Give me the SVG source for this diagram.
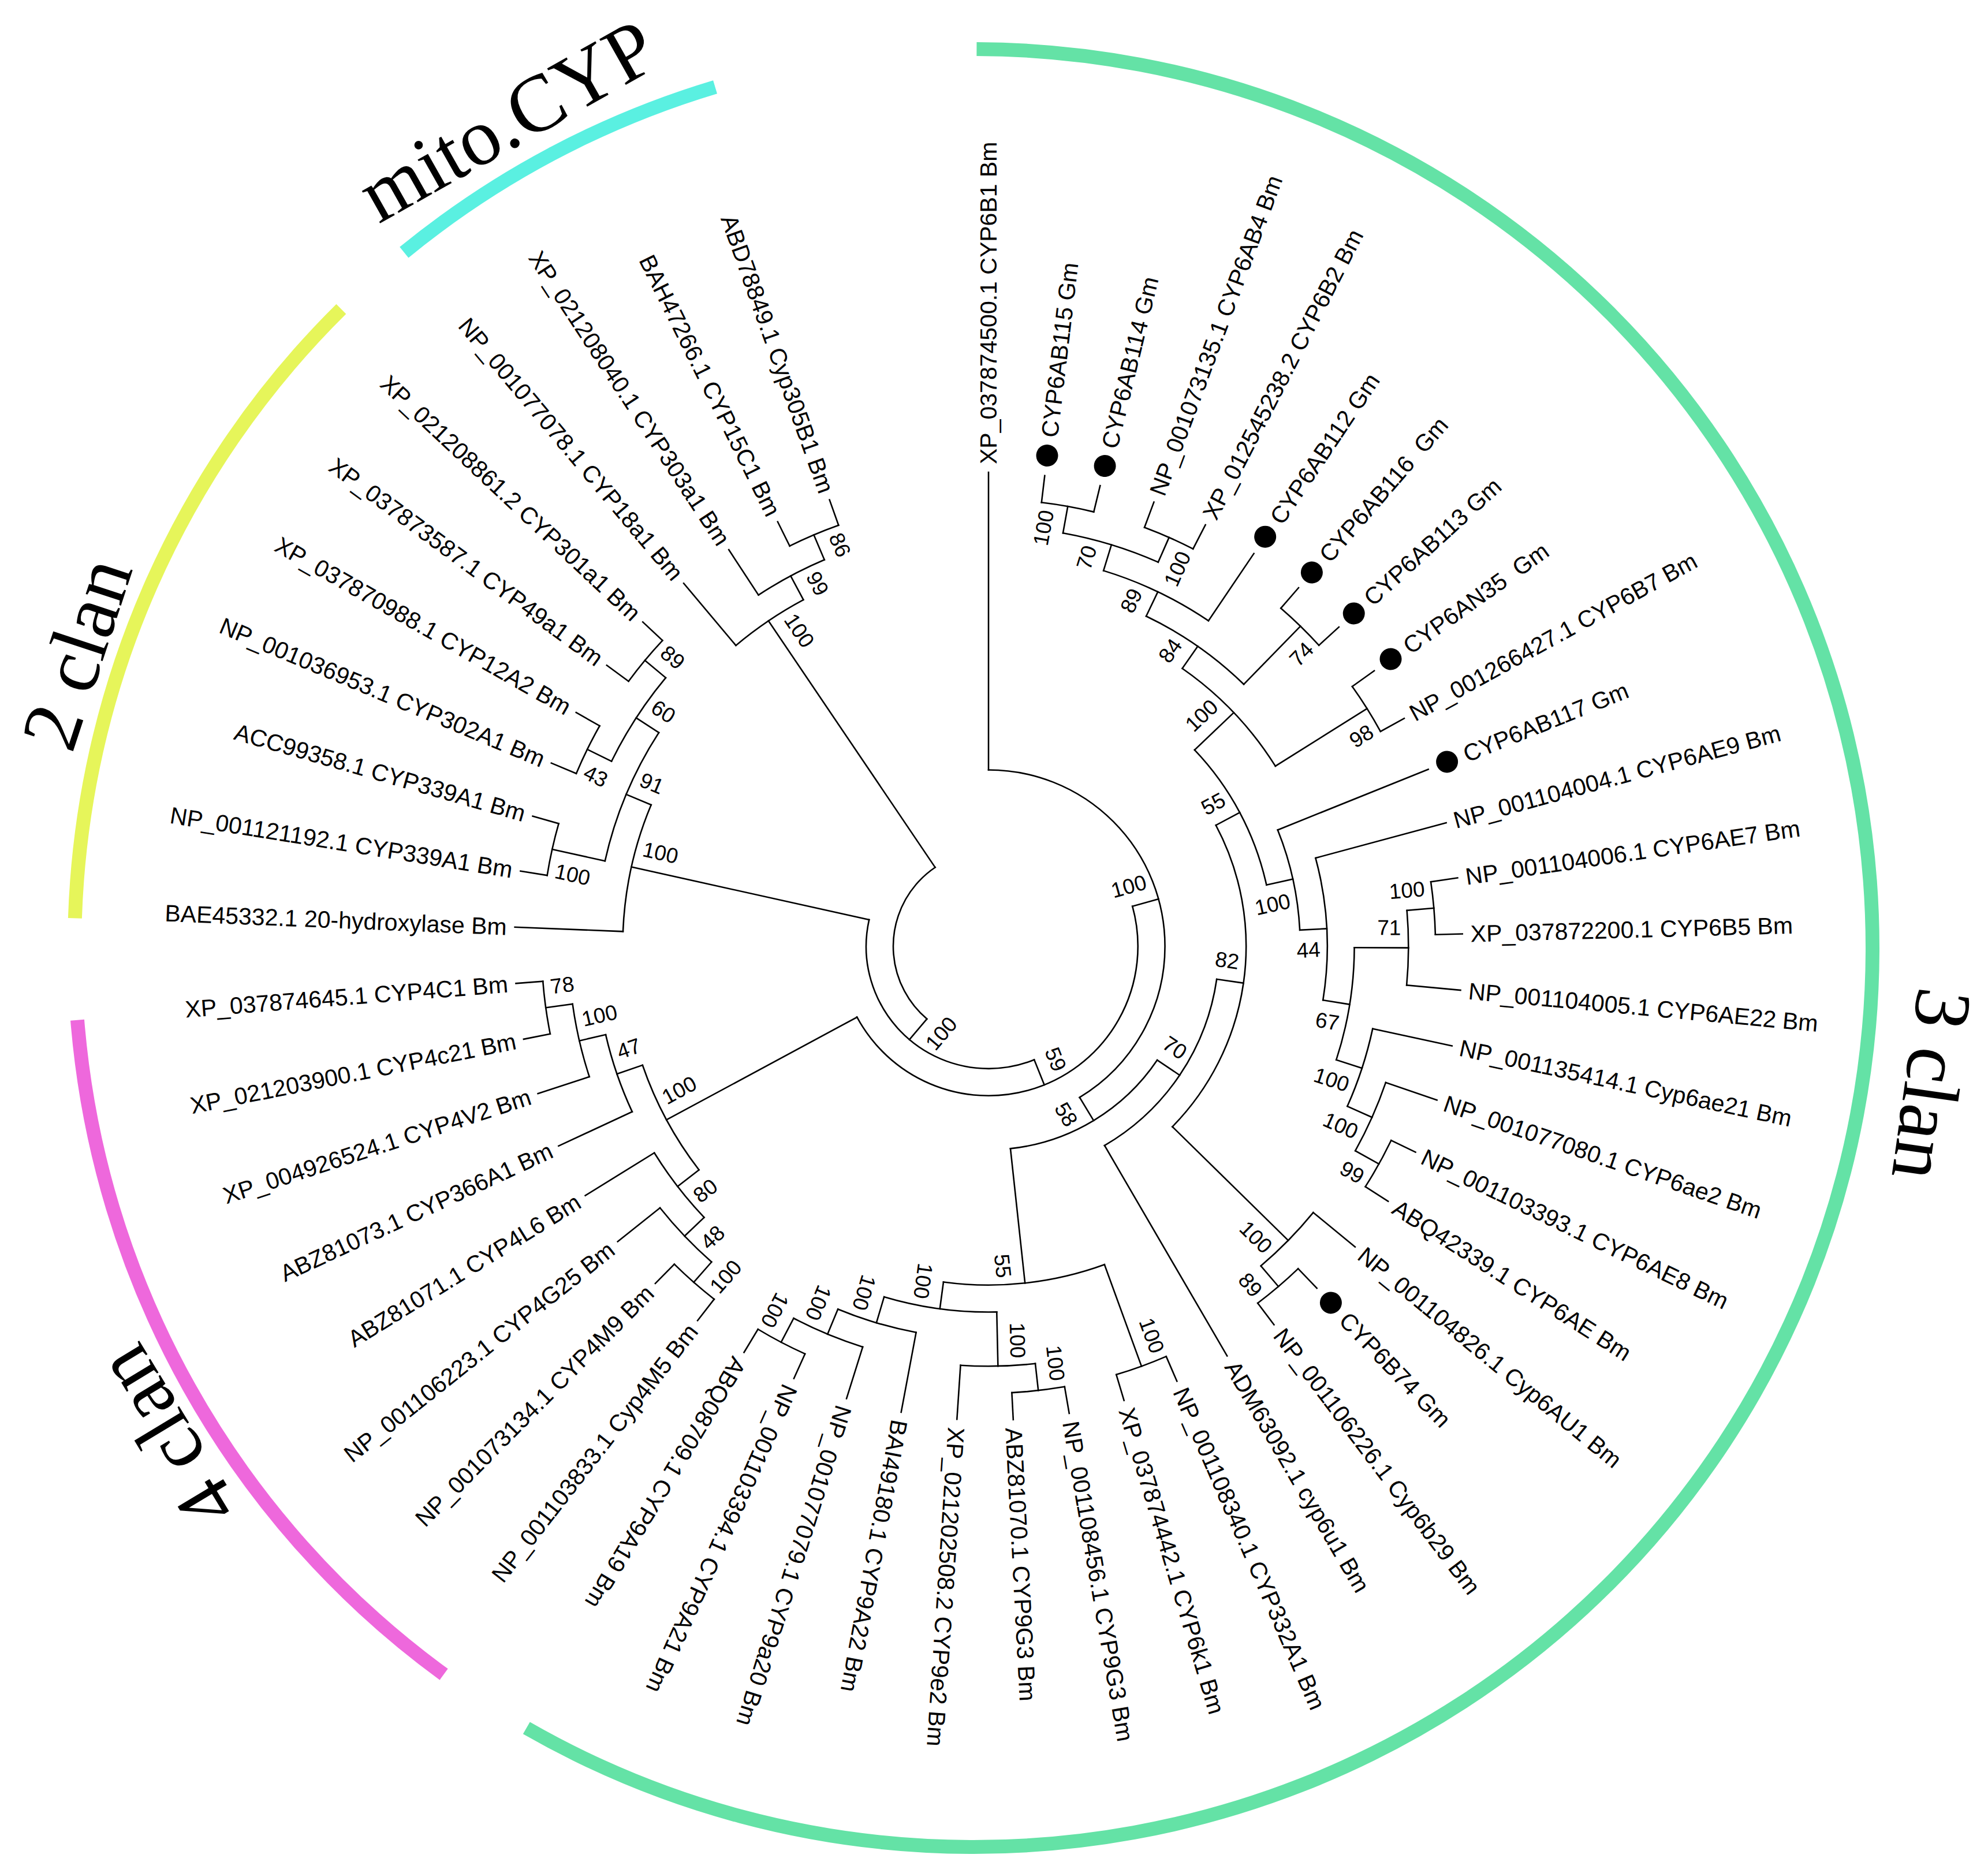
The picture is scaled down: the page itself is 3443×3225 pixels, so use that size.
<svg xmlns="http://www.w3.org/2000/svg" width="3443" height="3225" viewBox="0 0 3443 3225">
<style>
.c line,.c path{stroke:#000;stroke-width:2.6;stroke-linecap:square;fill:none}
.c circle{stroke:#000;stroke-width:2.6;fill:none;stroke-linecap:square}
.lf{font-family:"Liberation Sans",Arial,sans-serif;font-size:41px;fill:#000}
.bs{font-family:"Liberation Sans",Arial,sans-serif;font-size:37px;fill:#000}
.cl{font-family:"Liberation Serif","Times New Roman",serif;font-size:140px;fill:#000}
.ring circle{fill:none;stroke-width:24}
.dot{fill:#000}
</style>
<rect width="3443" height="3225" fill="#fff"/>
<g id="ring" class="ring" transform="translate(1686 1642)">
<circle r="1557" stroke="#5AF0E1" stroke-dasharray="614.15 99999" transform="rotate(230.7)"/>
<circle r="1557" stroke="#E6F55A" stroke-dasharray="1179.4 99999" transform="rotate(181.9)"/>
<circle r="1557" stroke="#EE68DC" stroke-dasharray="1339.7 99999" transform="rotate(126.1)"/>
<circle r="1557" stroke="#64E2A6" stroke-dasharray="5695.8 99999" transform="rotate(270.2)"/>
</g>
<g id="clan-labels" class="cl" text-anchor="middle">
<text id="lbl-mito" transform="translate(1686 1642) rotate(330.6) translate(0 -1598)">mito.CYP</text>
<text id="lbl-2clan" transform="translate(1686 1642) rotate(288.2) translate(0 -1588)">2 clan</text>
<text id="lbl-4clan" transform="translate(1686 1642) rotate(238.8) translate(0 -1588)">4 clan</text>
<text id="lbl-3clan" transform="translate(1686 1642) rotate(98.1) translate(0 -1630)" style="font-size:138px">3 clan</text>
</g>
<g id="connectors" class="c" transform="translate(1712 1639)">
<circle r="774.14" stroke-dasharray="92.01 99999" transform="rotate(276.81)"/>
<circle r="774.14" stroke-dasharray="92.01 99999" transform="rotate(290.42)"/>
<circle r="727.29" stroke-dasharray="172.76 99999" transform="rotate(280.215)"/>
<circle r="680.43" stroke-dasharray="202.12 99999" transform="rotate(287.02)"/>
<circle r="774.14" stroke-dasharray="92.01 99999" transform="rotate(310.85)"/>
<circle r="633.57" stroke-dasharray="207.06 99999" transform="rotate(295.53)"/>
<circle r="774.14" stroke-dasharray="92.01 99999" transform="rotate(324.46)"/>
<circle r="586.71" stroke-dasharray="235.26 99999" transform="rotate(304.89)"/>
<circle r="774.14" stroke-dasharray="91.88 99999" transform="rotate(351.70)"/>
<circle r="727.29" stroke-dasharray="129.60 99999" transform="rotate(355.10)"/>
<circle r="774.14" stroke-dasharray="91.88 99999" transform="rotate(385.74)"/>
<circle r="727.29" stroke-dasharray="129.60 99999" transform="rotate(378.93)"/>
<circle r="680.43" stroke-dasharray="141.50 99999" transform="rotate(372.12)"/>
<circle r="633.57" stroke-dasharray="197.66 99999" transform="rotate(360.205)"/>
<circle r="586.71" stroke-dasharray="248.32 99999" transform="rotate(344.89)"/>
<circle r="539.86" stroke-dasharray="178.41 99999" transform="rotate(338.08)"/>
<circle r="493" stroke-dasharray="268.20 99999" transform="rotate(316.38)"/>
<circle r="774.14" stroke-dasharray="92.01 99999" transform="rotate(406.16)"/>
<circle r="727.29" stroke-dasharray="129.66 99999" transform="rotate(399.35)"/>
<circle r="446.14" stroke-dasharray="564.49 99999" transform="rotate(331.965)"/>
<circle r="399.29" stroke-dasharray="359.39 99999" transform="rotate(368.21)"/>
<circle r="774.14" stroke-dasharray="92.01 99999" transform="rotate(426.58)"/>
<circle r="774.14" stroke-dasharray="92.01 99999" transform="rotate(440.20)"/>
<circle r="727.29" stroke-dasharray="129.66 99999" transform="rotate(443.605)"/>
<circle r="774.14" stroke-dasharray="92.01 99999" transform="rotate(474.24)"/>
<circle r="727.29" stroke-dasharray="129.66 99999" transform="rotate(467.43)"/>
<circle r="680.43" stroke-dasharray="141.56 99999" transform="rotate(460.62)"/>
<circle r="633.57" stroke-dasharray="197.60 99999" transform="rotate(448.71)"/>
<circle r="586.71" stroke-dasharray="283.24 99999" transform="rotate(429.985)"/>
<circle r="352.43" stroke-dasharray="306.45 99999" transform="rotate(393.995)"/>
<circle r="305.57" stroke-dasharray="794.14 99999" transform="rotate(270)"/>
<circle r="774.14" stroke-dasharray="91.88 99999" transform="rotate(487.86)"/>
<circle r="727.29" stroke-dasharray="129.60 99999" transform="rotate(491.26)"/>
<circle r="680.43" stroke-dasharray="141.50 99999" transform="rotate(496.365)"/>
<circle r="774.14" stroke-dasharray="92.01 99999" transform="rotate(528.70)"/>
<circle r="727.29" stroke-dasharray="129.54 99999" transform="rotate(521.90)"/>
<circle r="680.43" stroke-dasharray="141.44 99999" transform="rotate(515.09)"/>
<circle r="633.57" stroke-dasharray="207.06 99999" transform="rotate(502.32)"/>
<circle r="258.71" stroke-dasharray="755.10 99999" transform="rotate(344.45)"/>
<circle r="774.14" stroke-dasharray="92.01 99999" transform="rotate(576.36)"/>
<circle r="774.14" stroke-dasharray="92.01 99999" transform="rotate(562.74)"/>
<circle r="727.29" stroke-dasharray="172.89 99999" transform="rotate(566.145)"/>
<circle r="774.14" stroke-dasharray="92.01 99999" transform="rotate(549.13)"/>
<circle r="680.43" stroke-dasharray="242.50 99999" transform="rotate(552.535)"/>
<circle r="633.57" stroke-dasharray="225.86 99999" transform="rotate(542.32)"/>
<circle r="211.86" stroke-dasharray="460.23 99999" transform="rotate(428.065)"/>
<circle r="774.14" stroke-dasharray="92.01 99999" transform="rotate(603.59)"/>
<circle r="727.29" stroke-dasharray="129.66 99999" transform="rotate(596.78)"/>
<circle r="680.43" stroke-dasharray="141.44 99999" transform="rotate(589.98)"/>
<circle r="165" stroke-dasharray="304.21 99999" transform="rotate(490.30)"/>
<line x1="305.57" x2="821" transform="rotate(270)"/>
<line x1="774.14" x2="821" transform="rotate(276.81)"/>
<line x1="774.14" x2="821" transform="rotate(283.62)"/>
<line x1="774.14" x2="821" transform="rotate(290.42)"/>
<line x1="774.14" x2="821" transform="rotate(297.23)"/>
<line x1="680.43" x2="821" transform="rotate(304.04)"/>
<line x1="774.14" x2="821" transform="rotate(310.85)"/>
<line x1="774.14" x2="821" transform="rotate(317.66)"/>
<line x1="774.14" x2="821" transform="rotate(324.46)"/>
<line x1="774.14" x2="821" transform="rotate(331.27)"/>
<line x1="539.86" x2="821" transform="rotate(338.08)"/>
<line x1="586.71" x2="821" transform="rotate(344.89)"/>
<line x1="774.14" x2="821" transform="rotate(351.70)"/>
<line x1="774.14" x2="821" transform="rotate(358.50)"/>
<line x1="727.29" x2="821" transform="rotate(365.31)"/>
<line x1="680.43" x2="821" transform="rotate(372.12)"/>
<line x1="727.29" x2="821" transform="rotate(378.93)"/>
<line x1="774.14" x2="821" transform="rotate(385.74)"/>
<line x1="774.14" x2="821" transform="rotate(392.54)"/>
<line x1="727.29" x2="821" transform="rotate(399.35)"/>
<line x1="774.14" x2="821" transform="rotate(406.16)"/>
<line x1="774.14" x2="821" transform="rotate(412.97)"/>
<line x1="399.29" x2="821" transform="rotate(419.78)"/>
<line x1="774.14" x2="821" transform="rotate(426.58)"/>
<line x1="774.14" x2="821" transform="rotate(433.39)"/>
<line x1="774.14" x2="821" transform="rotate(440.20)"/>
<line x1="774.14" x2="821" transform="rotate(447.01)"/>
<line x1="727.29" x2="821" transform="rotate(453.82)"/>
<line x1="680.43" x2="821" transform="rotate(460.62)"/>
<line x1="727.29" x2="821" transform="rotate(467.43)"/>
<line x1="774.14" x2="821" transform="rotate(474.24)"/>
<line x1="774.14" x2="821" transform="rotate(481.05)"/>
<line x1="774.14" x2="821" transform="rotate(487.86)"/>
<line x1="774.14" x2="821" transform="rotate(494.66)"/>
<line x1="727.29" x2="821" transform="rotate(501.47)"/>
<line x1="680.43" x2="821" transform="rotate(508.28)"/>
<line x1="680.43" x2="821" transform="rotate(515.09)"/>
<line x1="727.29" x2="821" transform="rotate(521.90)"/>
<line x1="774.14" x2="821" transform="rotate(528.70)"/>
<line x1="774.14" x2="821" transform="rotate(535.51)"/>
<line x1="633.57" x2="821" transform="rotate(542.32)"/>
<line x1="774.14" x2="821" transform="rotate(549.13)"/>
<line x1="774.14" x2="821" transform="rotate(555.94)"/>
<line x1="774.14" x2="821" transform="rotate(562.74)"/>
<line x1="774.14" x2="821" transform="rotate(569.55)"/>
<line x1="774.14" x2="821" transform="rotate(576.36)"/>
<line x1="774.14" x2="821" transform="rotate(583.17)"/>
<line x1="680.43" x2="821" transform="rotate(589.98)"/>
<line x1="727.29" x2="821" transform="rotate(596.78)"/>
<line x1="774.14" x2="821" transform="rotate(603.59)"/>
<line x1="774.14" x2="821" transform="rotate(610.40)"/>
<line x1="727.29" x2="774.14" transform="rotate(280.215)"/>
<line x1="727.29" x2="774.14" transform="rotate(293.825)"/>
<line x1="680.43" x2="727.29" transform="rotate(287.02)"/>
<line x1="633.57" x2="680.43" transform="rotate(295.53)"/>
<line x1="633.57" x2="774.14" transform="rotate(314.255)"/>
<line x1="586.71" x2="633.57" transform="rotate(304.89)"/>
<line x1="586.71" x2="774.14" transform="rotate(327.865)"/>
<line x1="493" x2="586.71" transform="rotate(316.38)"/>
<line x1="727.29" x2="774.14" transform="rotate(355.10)"/>
<line x1="633.57" x2="727.29" transform="rotate(360.205)"/>
<line x1="727.29" x2="774.14" transform="rotate(389.14)"/>
<line x1="680.43" x2="727.29" transform="rotate(384.035)"/>
<line x1="633.57" x2="680.43" transform="rotate(378.08)"/>
<line x1="586.71" x2="633.57" transform="rotate(369.14)"/>
<line x1="539.86" x2="586.71" transform="rotate(357.015)"/>
<line x1="493" x2="539.86" transform="rotate(347.55)"/>
<line x1="446.14" x2="493" transform="rotate(331.965)"/>
<line x1="727.29" x2="774.14" transform="rotate(409.565)"/>
<line x1="446.14" x2="727.29" transform="rotate(404.46)"/>
<line x1="399.29" x2="446.14" transform="rotate(368.21)"/>
<line x1="352.43" x2="399.29" transform="rotate(393.995)"/>
<line x1="586.71" x2="774.14" transform="rotate(429.985)"/>
<line x1="727.29" x2="774.14" transform="rotate(443.605)"/>
<line x1="633.57" x2="727.29" transform="rotate(448.71)"/>
<line x1="727.29" x2="774.14" transform="rotate(477.645)"/>
<line x1="680.43" x2="727.29" transform="rotate(472.54)"/>
<line x1="633.57" x2="680.43" transform="rotate(466.58)"/>
<line x1="586.71" x2="633.57" transform="rotate(457.645)"/>
<line x1="352.43" x2="586.71" transform="rotate(443.815)"/>
<line x1="305.57" x2="352.43" transform="rotate(418.905)"/>
<line x1="258.71" x2="305.57" transform="rotate(344.45)"/>
<line x1="727.29" x2="774.14" transform="rotate(491.26)"/>
<line x1="680.43" x2="727.29" transform="rotate(496.365)"/>
<line x1="633.57" x2="680.43" transform="rotate(502.32)"/>
<line x1="727.29" x2="774.14" transform="rotate(532.105)"/>
<line x1="680.43" x2="727.29" transform="rotate(527.0)"/>
<line x1="633.57" x2="680.43" transform="rotate(521.045)"/>
<line x1="258.71" x2="633.57" transform="rotate(511.68)"/>
<line x1="211.86" x2="258.71" transform="rotate(428.065)"/>
<line x1="727.29" x2="774.14" transform="rotate(579.765)"/>
<line x1="727.29" x2="774.14" transform="rotate(566.145)"/>
<line x1="680.43" x2="727.29" transform="rotate(572.955)"/>
<line x1="680.43" x2="774.14" transform="rotate(552.535)"/>
<line x1="633.57" x2="680.43" transform="rotate(562.745)"/>
<line x1="211.86" x2="633.57" transform="rotate(552.53)"/>
<line x1="165" x2="211.86" transform="rotate(490.30)"/>
<line x1="727.29" x2="774.14" transform="rotate(606.995)"/>
<line x1="680.43" x2="727.29" transform="rotate(601.89)"/>
<line x1="165" x2="680.43" transform="rotate(595.935)"/>
</g>
<g id="leaves" class="lf" transform="translate(1712 1639)">
<g id="leaf00"><text transform="rotate(270)" x="835" dy=".35em">XP_037874500.1 CYP6B1 Bm</text></g>
<g id="leaf01"><circle class="dot" cx="856" r="19" transform="rotate(276.81)"/><text transform="rotate(276.81)" x="888" dy=".35em">CYP6AB115 Gm</text></g>
<g id="leaf02"><circle class="dot" cx="856" r="19" transform="rotate(283.62)"/><text transform="rotate(283.62)" x="888" dy=".35em">CYP6AB114 Gm</text></g>
<g id="leaf03"><text transform="rotate(290.42)" x="835" dy=".35em">NP_001073135.1 CYP6AB4 Bm</text></g>
<g id="leaf04"><text transform="rotate(297.23)" x="835" dy=".35em">XP_012545238.2 CYP6B2 Bm</text></g>
<g id="leaf05"><circle class="dot" cx="856" r="19" transform="rotate(304.04)"/><text transform="rotate(304.04)" x="888" dy=".35em">CYP6AB112 Gm</text></g>
<g id="leaf06"><circle class="dot" cx="856" r="19" transform="rotate(310.85)"/><text transform="rotate(310.85)" x="888" dy=".35em" xml:space="preserve">CYP6AB116  Gm</text></g>
<g id="leaf07"><circle class="dot" cx="856" r="19" transform="rotate(317.66)"/><text transform="rotate(317.66)" x="888" dy=".35em">CYP6AB113 Gm</text></g>
<g id="leaf08"><circle class="dot" cx="856" r="19" transform="rotate(324.46)"/><text transform="rotate(324.46)" x="888" dy=".35em" xml:space="preserve">CYP6AN35  Gm</text></g>
<g id="leaf09"><text transform="rotate(331.27)" x="835" dy=".35em">NP_001266427.1 CYP6B7 Bm</text></g>
<g id="leaf10"><circle class="dot" cx="856" r="19" transform="rotate(338.08)"/><text transform="rotate(338.08)" x="888" dy=".35em">CYP6AB117 Gm</text></g>
<g id="leaf11"><text transform="rotate(344.89)" x="835" dy=".35em">NP_001104004.1 CYP6AE9 Bm</text></g>
<g id="leaf12"><text transform="rotate(351.70)" x="835" dy=".35em">NP_001104006.1 CYP6AE7 Bm</text></g>
<g id="leaf13"><text transform="rotate(358.50)" x="835" dy=".35em">XP_037872200.1 CYP6B5 Bm</text></g>
<g id="leaf14"><text transform="rotate(365.31)" x="835" dy=".35em">NP_001104005.1 CYP6AE22 Bm</text></g>
<g id="leaf15"><text transform="rotate(372.12)" x="835" dy=".35em">NP_001135414.1 Cyp6ae21 Bm</text></g>
<g id="leaf16"><text transform="rotate(378.93)" x="835" dy=".35em">NP_001077080.1 CYP6ae2 Bm</text></g>
<g id="leaf17"><text transform="rotate(385.74)" x="835" dy=".35em">NP_001103393.1 CYP6AE8 Bm</text></g>
<g id="leaf18"><text transform="rotate(392.54)" x="835" dy=".35em">ABQ42339.1 CYP6AE Bm</text></g>
<g id="leaf19"><text transform="rotate(399.35)" x="835" dy=".35em">NP_001104826.1 Cyp6AU1 Bm</text></g>
<g id="leaf20"><circle class="dot" cx="856" r="19" transform="rotate(406.16)"/><text transform="rotate(406.16)" x="888" dy=".35em">CYP6B74 Gm</text></g>
<g id="leaf21"><text transform="rotate(412.97)" x="835" dy=".35em">NP_001106226.1 Cyp6b29 Bm</text></g>
<g id="leaf22"><text transform="rotate(419.78)" x="835" dy=".35em">ADM63092.1 cyp6u1 Bm</text></g>
<g id="leaf23"><text transform="rotate(426.58)" x="835" dy=".35em">NP_001108340.1 CYP332A1 Bm</text></g>
<g id="leaf24"><text transform="rotate(433.39)" x="835" dy=".35em">XP_037874442.1 CYP6k1 Bm</text></g>
<g id="leaf25"><text transform="rotate(440.20)" x="835" dy=".35em">NP_001108456.1 CYP9G3 Bm</text></g>
<g id="leaf26"><text transform="rotate(447.01)" x="835" dy=".35em">ABZ81070.1 CYP9G3 Bm</text></g>
<g id="leaf27"><text transform="rotate(453.82)" x="835" dy=".35em">XP_021202508.2 CYP9e2 Bm</text></g>
<g id="leaf28"><text transform="rotate(460.62)" x="835" dy=".35em">BAI49180.1 CYP9A22 Bm</text></g>
<g id="leaf29"><text transform="rotate(467.43)" x="835" dy=".35em">NP_001077079.1 CYP9a20 Bm</text></g>
<g id="leaf30"><text transform="rotate(474.24)" x="835" dy=".35em">NP_001103394.1 CYP9A21 Bm</text></g>
<g id="leaf31"><text transform="rotate(481.05)" x="835" dy=".35em">ABQ08709.1 CYP9A19 Bm</text></g>
<g id="leaf32"><text transform="rotate(307.86)" x="-835" dy=".35em" text-anchor="end">NP_001103833.1 Cyp4M5 Bm</text></g>
<g id="leaf33"><text transform="rotate(314.66)" x="-835" dy=".35em" text-anchor="end">NP_001073134.1 CYP4M9 Bm</text></g>
<g id="leaf34"><text transform="rotate(321.47)" x="-835" dy=".35em" text-anchor="end">NP_001106223.1 CYP4G25 Bm</text></g>
<g id="leaf35"><text transform="rotate(328.28)" x="-835" dy=".35em" text-anchor="end">ABZ81071.1 CYP4L6 Bm</text></g>
<g id="leaf36"><text transform="rotate(335.09)" x="-835" dy=".35em" text-anchor="end">ABZ81073.1 CYP366A1 Bm</text></g>
<g id="leaf37"><text transform="rotate(341.90)" x="-835" dy=".35em" text-anchor="end">XP_004926524.1 CYP4V2 Bm</text></g>
<g id="leaf38"><text transform="rotate(348.70)" x="-835" dy=".35em" text-anchor="end">XP_021203900.1 CYP4c21 Bm</text></g>
<g id="leaf39"><text transform="rotate(355.51)" x="-835" dy=".35em" text-anchor="end">XP_037874645.1 CYP4C1 Bm</text></g>
<g id="leaf40"><text transform="rotate(362.32)" x="-835" dy=".35em" text-anchor="end">BAE45332.1 20-hydroxylase Bm</text></g>
<g id="leaf41"><text transform="rotate(369.13)" x="-835" dy=".35em" text-anchor="end">NP_001121192.1 CYP339A1 Bm</text></g>
<g id="leaf42"><text transform="rotate(375.94)" x="-835" dy=".35em" text-anchor="end">ACC99358.1 CYP339A1 Bm</text></g>
<g id="leaf43"><text transform="rotate(382.74)" x="-835" dy=".35em" text-anchor="end">NP_001036953.1 CYP302A1 Bm</text></g>
<g id="leaf44"><text transform="rotate(389.55)" x="-835" dy=".35em" text-anchor="end">XP_037870988.1 CYP12A2 Bm</text></g>
<g id="leaf45"><text transform="rotate(396.36)" x="-835" dy=".35em" text-anchor="end">XP_037873587.1 CYP49a1 Bm</text></g>
<g id="leaf46"><text transform="rotate(403.17)" x="-835" dy=".35em" text-anchor="end">XP_021208861.2 CYP301a1 Bm</text></g>
<g id="leaf47"><text transform="rotate(409.98)" x="-835" dy=".35em" text-anchor="end">NP_001077078.1 CYP18a1 Bm</text></g>
<g id="leaf48"><text transform="rotate(416.78)" x="-835" dy=".35em" text-anchor="end">XP_021208040.1 CYP303a1 Bm</text></g>
<g id="leaf49"><text transform="rotate(423.59)" x="-835" dy=".35em" text-anchor="end">BAH47266.1 CYP15C1 Bm</text></g>
<g id="leaf50"><text transform="rotate(430.40)" x="-835" dy=".35em" text-anchor="end">ABD78849.1 Cyp305B1 Bm</text></g>
</g>
<g id="bootstrap" class="bs" transform="translate(1712 1639)">
<g id="bs-3clan"><text transform="rotate(344.45)" x="292.6" y="-35" dy=".35em" text-anchor="end">100</text></g>
<g id="bs-ab115"><text transform="rotate(280.215)" x="761.1" y="-35" dy=".35em" text-anchor="end">100</text></g>
<g id="bs-70a"><text transform="rotate(287.02)" x="714.3" y="-35" dy=".35em" text-anchor="end">70</text></g>
<g id="bs-ab4"><text transform="rotate(293.825)" x="761.1" y="35" dy=".35em" text-anchor="end">100</text></g>
<g id="bs-89a"><text transform="rotate(295.53)" x="667.4" y="-35" dy=".35em" text-anchor="end">89</text></g>
<g id="bs-84"><text transform="rotate(304.89)" x="620.6" y="-35" dy=".35em" text-anchor="end">84</text></g>
<g id="bs-74"><text transform="rotate(314.255)" x="761.1" y="35" dy=".35em" text-anchor="end">74</text></g>
<g id="bs-98"><text transform="rotate(327.865)" x="761.1" y="35" dy=".35em" text-anchor="end">98</text></g>
<g id="bs-100u"><text transform="rotate(316.38)" x="573.7" y="-35" dy=".35em" text-anchor="end">100</text></g>
<g id="bs-55u"><text transform="rotate(331.965)" x="480" y="-35" dy=".35em" text-anchor="end">55</text></g>
<g id="bs-100m"><text transform="rotate(347.55)" x="526.9" y="35" dy=".35em" text-anchor="end">100</text></g>
<g id="bs-44"><text transform="rotate(357.015)" x="573.7" y="35" dy=".35em" text-anchor="end">44</text></g>
<g id="bs-71"><text transform="rotate(360.205)" x="714.3" y="-35" dy=".35em" text-anchor="end">71</text></g>
<g id="bs-100d"><text transform="rotate(355.10)" x="761.1" y="-35" dy=".35em" text-anchor="end">100</text></g>
<g id="bs-67"><text transform="rotate(369.14)" x="620.6" y="35" dy=".35em" text-anchor="end">67</text></g>
<g id="bs-100c"><text transform="rotate(378.08)" x="667.4" y="35" dy=".35em" text-anchor="end">100</text></g>
<g id="bs-100e"><text transform="rotate(384.035)" x="714.3" y="35" dy=".35em" text-anchor="end">100</text></g>
<g id="bs-99"><text transform="rotate(389.14)" x="761.1" y="35" dy=".35em" text-anchor="end">99</text></g>
<g id="bs-100lr"><text transform="rotate(404.46)" x="714.3" y="35" dy=".35em" text-anchor="end">100</text></g>
<g id="bs-89lr"><text transform="rotate(409.565)" x="761.1" y="35" dy=".35em" text-anchor="end">89</text></g>
<g id="bs-82"><text transform="rotate(368.21)" x="433.1" y="-35" dy=".35em" text-anchor="end">82</text></g>
<g id="bs-70"><text transform="rotate(393.995)" x="386.3" y="-35" dy=".35em" text-anchor="end">70</text></g>
<g id="bs-58"><text transform="rotate(418.905)" x="339.4" y="35" dy=".35em" text-anchor="end">58</text></g>
<g id="bs-59"><text transform="rotate(428.065)" x="245.7" y="-35" dy=".35em" text-anchor="end">59</text></g>
<g id="bs-55b"><text transform="rotate(443.815)" x="573.7" y="35" dy=".35em" text-anchor="end">55</text></g>
<g id="bs-g"><text transform="rotate(429.985)" x="761.1" y="-35" dy=".35em" text-anchor="end">100</text></g>
<g id="bs-d"><text transform="rotate(443.605)" x="761.1" y="-35" dy=".35em" text-anchor="end">100</text></g>
<g id="bs-e"><text transform="rotate(448.71)" x="714.3" y="-35" dy=".35em" text-anchor="end">100</text></g>
<g id="bs-f"><text transform="rotate(457.645)" x="620.6" y="35" dy=".35em" text-anchor="end">100</text></g>
<g id="bs-c"><text transform="rotate(466.58)" x="667.4" y="35" dy=".35em" text-anchor="end">100</text></g>
<g id="bs-b"><text transform="rotate(472.54)" x="714.3" y="35" dy=".35em" text-anchor="end">100</text></g>
<g id="bs-a"><text transform="rotate(477.645)" x="761.1" y="35" dy=".35em" text-anchor="end">100</text></g>
<g id="bs-rB"><text transform="rotate(490.30) translate(198.9 -35) rotate(180)" dy=".35em">100</text></g>
<g id="bs-100y"><text transform="rotate(491.26) translate(761.1 -35) rotate(180)" dy=".35em">100</text></g>
<g id="bs-48"><text transform="rotate(496.365) translate(714.3 -35) rotate(180)" dy=".35em">48</text></g>
<g id="bs-80"><text transform="rotate(502.32) translate(667.4 -35) rotate(180)" dy=".35em">80</text></g>
<g id="bs-78"><text transform="rotate(532.105) translate(761.1 35) rotate(180)" dy=".35em">78</text></g>
<g id="bs-100x"><text transform="rotate(527.0) translate(714.3 35) rotate(180)" dy=".35em">100</text></g>
<g id="bs-47"><text transform="rotate(521.045) translate(667.4 35) rotate(180)" dy=".35em">47</text></g>
<g id="bs-4clan"><text transform="rotate(511.68) translate(620.6 35) rotate(180)" dy=".35em">100</text></g>
<g id="bs-89b"><text transform="rotate(579.765) translate(761.1 35) rotate(180)" dy=".35em">89</text></g>
<g id="bs-43"><text transform="rotate(566.145) translate(761.1 -35) rotate(180)" dy=".35em">43</text></g>
<g id="bs-60"><text transform="rotate(572.955) translate(714.3 35) rotate(180)" dy=".35em">60</text></g>
<g id="bs-100z"><text transform="rotate(552.535) translate(761.1 -35) rotate(180)" dy=".35em">100</text></g>
<g id="bs-91"><text transform="rotate(562.745) translate(667.4 35) rotate(180)" dy=".35em">91</text></g>
<g id="bs-2clan"><text transform="rotate(552.53) translate(620.6 35) rotate(180)" dy=".35em">100</text></g>
<g id="bs-86"><text transform="rotate(606.995) translate(761.1 35) rotate(180)" dy=".35em">86</text></g>
<g id="bs-99m"><text transform="rotate(601.89) translate(714.3 35) rotate(180)" dy=".35em">99</text></g>
<g id="bs-mito"><text transform="rotate(595.935) translate(667.4 35) rotate(180)" dy=".35em">100</text></g>
</g>
</svg>
